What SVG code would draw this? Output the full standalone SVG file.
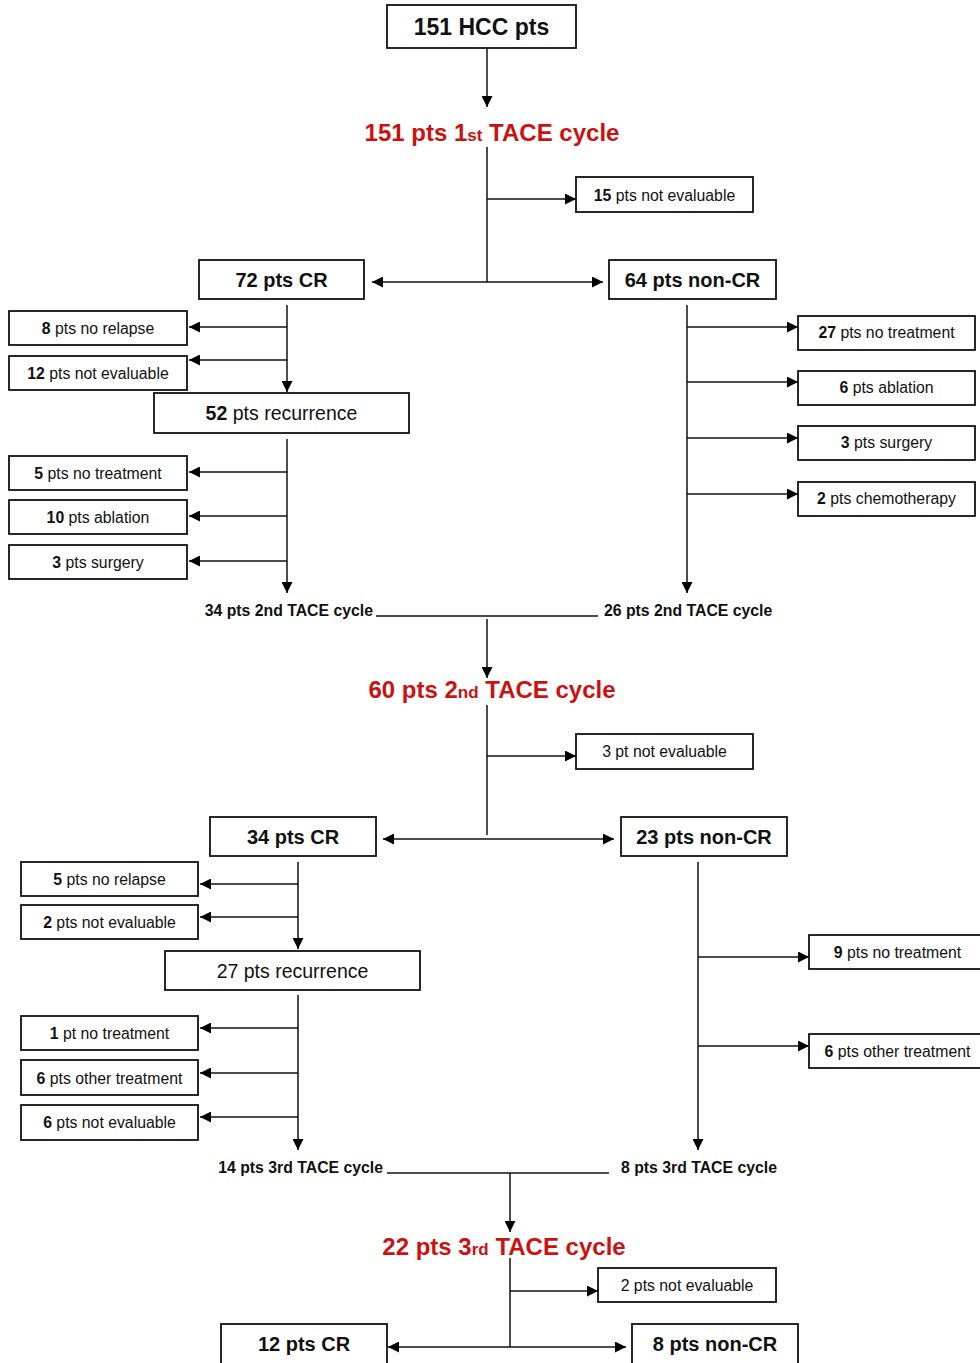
<svg xmlns="http://www.w3.org/2000/svg" width="980" height="1363" viewBox="0 0 980 1363">
<defs>
<marker id="ah" viewBox="0 0 10 10" refX="10" refY="5" markerWidth="11" markerHeight="11" markerUnits="userSpaceOnUse" orient="auto-start-reverse"><path d="M0,0 L10,5 L0,10 z" fill="#000"/></marker>
<style>
.bx{fill:#fff;stroke:#111;stroke-width:1.8}
.ln{fill:none;stroke:#111;stroke-width:1.5}
.ar{fill:none;stroke:#111;stroke-width:1.5;marker-end:url(#ah)}
.ar2{fill:none;stroke:#111;stroke-width:1.5;marker-end:url(#ah);marker-start:url(#ah)}
text{font-family:"Liberation Sans",Arial,sans-serif;fill:#111}
.s{font-size:15.8px;text-anchor:middle}
.m{font-size:20px;font-weight:bold;text-anchor:middle}
.r{font-size:19.5px;text-anchor:middle}
.c{font-size:15.8px;font-weight:bold}
.t{font-size:24px;font-weight:bold;fill:#cc1111;text-anchor:middle}
.t tspan{fill:#cc1111}
.sm{font-size:17px}
.b{font-weight:bold}
</style>
</defs>
<rect width="980" height="1363" fill="#fff"/>
<g id="connectors">
<path class="ar" d="M487,48 V107"/>
<path class="ln" d="M487,147 V282"/>
<path class="ar" d="M487,199 H576"/>
<path class="ar2" d="M372,282 H603"/>
<path class="ar" d="M287,305 V392"/>
<path class="ar" d="M287,327 H189"/>
<path class="ar" d="M287,360 H189"/>
<path class="ar" d="M287,439 V593"/>
<path class="ar" d="M287,472 H189"/>
<path class="ar" d="M287,516 H189"/>
<path class="ar" d="M287,561 H189"/>
<path class="ar" d="M687,305 V593"/>
<path class="ar" d="M687,327 H798"/>
<path class="ar" d="M687,382 H798"/>
<path class="ar" d="M687,438 H798"/>
<path class="ar" d="M687,494 H798"/>
<path class="ln" d="M376,616 H598"/>
<path class="ar" d="M487,619 V678"/>
<path class="ln" d="M487,705 V835"/>
<path class="ar" d="M487,756 H576"/>
<path class="ar2" d="M383,839 H614"/>
<path class="ar" d="M298,862 V949"/>
<path class="ar" d="M298,884 H200"/>
<path class="ar" d="M298,917 H200"/>
<path class="ar" d="M298,995 V1150"/>
<path class="ar" d="M298,1028 H200"/>
<path class="ar" d="M298,1073 H200"/>
<path class="ar" d="M298,1117 H200"/>
<path class="ar" d="M698,862 V1150"/>
<path class="ar" d="M698,957 H809"/>
<path class="ar" d="M698,1046 H809"/>
<path class="ln" d="M387,1173 H609"/>
<path class="ar" d="M510,1173 V1232"/>
<path class="ln" d="M510,1258 V1347"/>
<path class="ar" d="M510,1291 H598"/>
<path class="ar2" d="M388,1347 H626"/>
</g>
<g id="n_hcc"><rect class="bx" x="387" y="5" width="189" height="43"/><text class="m" x="481.5" y="35" style="font-size:23px">151 HCC pts</text></g>
<g id="t_1st"><text class="t" x="492" y="141">151 pts 1<tspan class="sm">st</tspan> TACE cycle</text></g>
<g id="n_ne1"><rect class="bx" x="576" y="177" width="177" height="35"/><text class="s" x="664.5" y="201"><tspan class="b">15</tspan> pts not evaluable</text></g>
<g id="n_cr1"><rect class="bx" x="199" y="260" width="165" height="39"/><text class="m" x="281.5" y="287">72 pts CR</text></g>
<g id="n_ncr1"><rect class="bx" x="609" y="260" width="167" height="39"/><text class="m" x="692.5" y="287">64 pts non-CR</text></g>
<g id="n_nr1"><rect class="bx" x="9" y="311" width="178" height="34"/><text class="s" x="98" y="334"><tspan class="b">8</tspan> pts no relapse</text></g>
<g id="n_ne2"><rect class="bx" x="9" y="356" width="178" height="34"/><text class="s" x="98" y="379"><tspan class="b">12</tspan> pts not evaluable</text></g>
<g id="n_rec1"><rect class="bx" x="154" y="393" width="255" height="40"/><text class="r" x="281.5" y="420"><tspan class="b">52</tspan> pts recurrence</text></g>
<g id="n_nt1"><rect class="bx" x="9" y="456" width="178" height="34"/><text class="s" x="98" y="479"><tspan class="b">5</tspan> pts no treatment</text></g>
<g id="n_ab1"><rect class="bx" x="9" y="500" width="178" height="34"/><text class="s" x="98" y="523"><tspan class="b">10</tspan> pts ablation</text></g>
<g id="n_su1"><rect class="bx" x="9" y="545" width="178" height="34"/><text class="s" x="98" y="568"><tspan class="b">3</tspan> pts surgery</text></g>
<g id="n_nt2"><rect class="bx" x="798" y="316" width="177" height="34"/><text class="s" x="886.5" y="338"><tspan class="b">27</tspan> pts no treatment</text></g>
<g id="n_ab2"><rect class="bx" x="798" y="371" width="177" height="34"/><text class="s" x="886.5" y="393"><tspan class="b">6</tspan> pts ablation</text></g>
<g id="n_su2"><rect class="bx" x="798" y="426" width="177" height="34"/><text class="s" x="886.5" y="448"><tspan class="b">3</tspan> pts surgery</text></g>
<g id="n_ch2"><rect class="bx" x="798" y="482" width="177" height="34"/><text class="s" x="886.5" y="504"><tspan class="b">2</tspan> pts chemotherapy</text></g>
<g id="l_34"><text class="c" x="373" y="616" text-anchor="end">34 pts 2nd TACE cycle</text></g>
<g id="l_26"><text class="c" x="604" y="616">26 pts 2nd TACE cycle</text></g>
<g id="t_2nd"><text class="t" x="492" y="698">60 pts 2<tspan class="sm">nd</tspan> TACE cycle</text></g>
<g id="n_ne3"><rect class="bx" x="576" y="734" width="177" height="35"/><text class="s" x="664.5" y="757">3 pt not evaluable</text></g>
<g id="n_cr2"><rect class="bx" x="210" y="817" width="166" height="39"/><text class="m" x="293" y="844">34 pts CR</text></g>
<g id="n_ncr2"><rect class="bx" x="621" y="817" width="166" height="39"/><text class="m" x="704" y="844">23 pts non-CR</text></g>
<g id="n_nr2"><rect class="bx" x="21" y="862" width="177" height="34"/><text class="s" x="109.5" y="885"><tspan class="b">5</tspan> pts no relapse</text></g>
<g id="n_ne4"><rect class="bx" x="21" y="905" width="177" height="34"/><text class="s" x="109.5" y="928"><tspan class="b">2</tspan> pts not evaluable</text></g>
<g id="n_rec2"><rect class="bx" x="165" y="951" width="255" height="39"/><text class="r" x="292.5" y="978">27 pts recurrence</text></g>
<g id="n_nt3"><rect class="bx" x="21" y="1016" width="177" height="34"/><text class="s" x="109.5" y="1039"><tspan class="b">1</tspan> pt no treatment</text></g>
<g id="n_ot3"><rect class="bx" x="21" y="1060" width="177" height="35"/><text class="s" x="109.5" y="1084"><tspan class="b">6</tspan> pts other treatment</text></g>
<g id="n_ne5"><rect class="bx" x="21" y="1105" width="177" height="35"/><text class="s" x="109.5" y="1128"><tspan class="b">6</tspan> pts not evaluable</text></g>
<g id="n_nt4"><rect class="bx" x="809" y="935" width="177" height="34"/><text class="s" x="897.5" y="958"><tspan class="b">9</tspan> pts no treatment</text></g>
<g id="n_ot4"><rect class="bx" x="809" y="1034" width="177" height="34"/><text class="s" x="897.5" y="1057"><tspan class="b">6</tspan> pts other treatment</text></g>
<g id="l_14"><text class="c" x="383" y="1173" text-anchor="end">14 pts 3rd TACE cycle</text></g>
<g id="l_8"><text class="c" x="621" y="1173">8 pts 3rd TACE cycle</text></g>
<g id="t_3rd"><text class="t" x="504" y="1255">22 pts 3<tspan class="sm">rd</tspan> TACE cycle</text></g>
<g id="n_ne6"><rect class="bx" x="598" y="1268" width="178" height="34"/><text class="s" x="687" y="1291">2 pts not evaluable</text></g>
<g id="n_cr3"><rect class="bx" x="221" y="1324" width="166" height="45"/><text class="m" x="304" y="1351">12 pts CR</text></g>
<g id="n_ncr3"><rect class="bx" x="632" y="1324" width="166" height="45"/><text class="m" x="715" y="1351">8 pts non-CR</text></g>
</svg>
